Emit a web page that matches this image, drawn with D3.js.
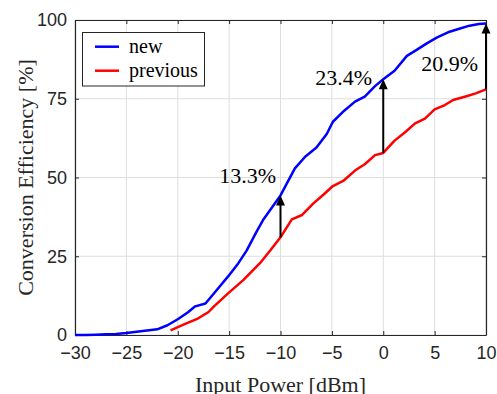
<!DOCTYPE html>
<html>
<head>
<meta charset="utf-8">
<script src="https://cdn.jsdelivr.net/npm/d3@7"></script>
<style>
  html, body { margin: 0; padding: 0; background: #fff; }
  svg { display: block; }
</style>
</head>
<body>
<div id="chart"></div>
<script>
// data
const newX = [-30, -29, -28, -27, -26, -25, -24, -23, -22, -21, -20, -19, -18.3, -17.3, -16.2, -15.1, -14.1, -13.3, -12.3, -11.7, -10, -8.6, -7.6, -6.5, -5.5, -4.9, -3.8, -2.75, -1.8, -0.8, 0, 1.1, 2.3, 3.25, 4.2, 5.2, 6.3, 7.4, 8.4, 9.3, 10];
const newY = [0, 0, 0.1, 0.2, 0.3, 0.6, 1.0, 1.4, 1.8, 3.1, 5.0, 7.2, 9.1, 10.0, 14.3, 18.6, 22.8, 26.8, 33.0, 36.5, 44.3, 52.9, 56.6, 59.5, 63.8, 67.7, 71.2, 74.1, 75.7, 79.0, 81.2, 83.9, 88.6, 90.5, 92.5, 94.4, 96.1, 97.2, 98.2, 98.7, 98.9];
const prevX = [-20.7, -19.5, -18.0, -17.0, -16.5, -15.1, -13.6, -12.0, -11.0, -10, -8.9, -7.9, -6.8, -5.8, -4.9, -3.9, -2.75, -1.8, -0.8, 0, 1.1, 2.1, 3.1, 4.06, 5.0, 6.0, 6.8, 8.1, 9.0, 10];
const prevY = [1.5, 3.2, 5.3, 7.3, 9.0, 13.2, 17.5, 22.8, 26.8, 31.0, 36.7, 38.1, 41.8, 44.6, 47.3, 48.9, 52.2, 54.2, 57.1, 57.8, 61.7, 64.3, 67.2, 68.7, 71.6, 73.0, 74.6, 75.8, 76.7, 78.0];
const seriesNames = ['new', 'previous'];
const seriesColors = ['#0000ff', '#ff0000'];
const arrowAt = [-10, 0, 10];
const arrowText = ['13.3%', '23.4%', '20.9%'];
const xTicks = [-30, -25, -20, -15, -10, -5, 0, 5, 10];
const yTicks = [0, 25, 50, 75, 100];

const width = 497, height = 394;
const margin = { top: 20, right: 11, bottom: 59, left: 75 };
const innerW = width - margin.left - margin.right;
const innerH = height - margin.top - margin.bottom;

const svg = d3.select('#chart').append('svg')
  .attr('width', width)
  .attr('height', height);

const g = svg.append('g')
  .attr('transform', `translate(${margin.left},${margin.top})`);

const x = d3.scaleLinear().domain([-30, 10]).range([0, innerW]);
const y = d3.scaleLinear().domain([0, 100]).range([innerH, 0]);

// grid
g.append('g').selectAll('line')
  .data(xTicks).enter().append('line')
  .attr('x1', d => x(d)).attr('x2', d => x(d))
  .attr('y1', 0).attr('y2', innerH)
  .attr('stroke', '#dedede').attr('stroke-width', 1);
g.append('g').selectAll('line')
  .data(yTicks).enter().append('line')
  .attr('x1', 0).attr('x2', innerW)
  .attr('y1', d => y(d)).attr('y2', d => y(d))
  .attr('stroke', '#dedede').attr('stroke-width', 1);

// axes (ticks inward, matlab style)
const fmt = d => d < 0 ? '\u2212' + Math.abs(d) : String(d);
g.append('g')
  .attr('transform', `translate(0,${innerH})`)
  .call(d3.axisBottom(x).tickValues(xTicks).tickFormat(fmt).tickSizeInner(-4).tickSizeOuter(0).tickPadding(11));
g.append('g')
  .call(d3.axisLeft(y).tickValues(yTicks).tickFormat(fmt).tickSizeInner(-4).tickSizeOuter(0).tickPadding(8));
g.append('g')
  .call(d3.axisTop(x).tickValues(xTicks).tickFormat('').tickSizeInner(-4).tickSizeOuter(0));
g.append('g')
  .attr('transform', `translate(${innerW},0)`)
  .call(d3.axisRight(y).tickValues(yTicks).tickFormat('').tickSizeInner(-4).tickSizeOuter(0));

g.selectAll('.domain').attr('stroke', '#262626').attr('stroke-width', 1.2);
g.selectAll('.tick line').attr('stroke', '#262626');
g.selectAll('.tick text')
  .attr('fill', '#262626')
  .style('font-family', '"Liberation Sans", Arial, sans-serif')
  .style('font-size', '18px');

// series
const line = d3.line().x(d => x(d[0])).y(d => y(d[1]));
const series = [d3.zip(newX, newY), d3.zip(prevX, prevY)];
g.selectAll('.series')
  .data(series).enter().append('path')
  .attr('d', line)
  .attr('fill', 'none')
  .attr('stroke', (d, i) => seriesColors[i])
  .attr('stroke-width', 2.5)
  .attr('stroke-linejoin', 'round');

// arrows from previous up to new
const valueAt = (xs, ys, v) => ys[xs.indexOf(v)];
arrowAt.forEach((v, i) => {
  const y0 = y(valueAt(prevX, prevY, v));
  const y1 = y(valueAt(newX, newY, v));
  const xp = x(v);
  g.append('line')
    .attr('x1', xp).attr('x2', xp)
    .attr('y1', y0).attr('y2', y1 + 8)
    .attr('stroke', '#000').attr('stroke-width', 2);
  g.append('path')
    .attr('d', `M${xp},${y1} L${xp - 4.5},${y1 + 10} L${xp + 4.5},${y1 + 10} Z`)
    .attr('fill', '#000');
});

// arrow labels
const labelPos = [[276, 183], [372, 85], [478, 71]];
svg.selectAll('.lbl')
  .data(arrowText).enter().append('text')
  .attr('x', (d, i) => labelPos[i][0])
  .attr('y', (d, i) => labelPos[i][1])
  .attr('text-anchor', 'end')
  .style('font-family', '"Liberation Serif", "Times New Roman", serif')
  .style('font-size', '22px')
  .attr('fill', '#000')
  .text(d => d);

// legend
const legend = svg.append('g');
legend.append('rect')
  .attr('x', 82.5).attr('y', 32.5)
  .attr('width', 122).attr('height', 53.5)
  .attr('fill', '#fff').attr('stroke', '#262626').attr('stroke-width', 1);
seriesNames.forEach((name, i) => {
  const ly = 46.7 + i * 24;
  legend.append('line')
    .attr('x1', 95).attr('x2', 119)
    .attr('y1', ly).attr('y2', ly)
    .attr('stroke', seriesColors[i]).attr('stroke-width', 2.5);
  legend.append('text')
    .attr('x', 129).attr('y', ly + 6)
    .style('font-family', '"Liberation Serif", "Times New Roman", serif')
    .style('font-size', '20px')
    .attr('fill', '#000')
    .text(name);
});

// axis titles
svg.append('text')
  .attr('x', margin.left + innerW / 2)
  .attr('y', 392)
  .attr('text-anchor', 'middle')
  .style('font-family', '"Liberation Serif", "Times New Roman", serif')
  .style('font-size', '22px')
  .attr('fill', '#262626')
  .text('Input Power [dBm]');
svg.append('text')
  .attr('transform', `translate(33,${margin.top + innerH / 2}) rotate(-90)`)
  .attr('text-anchor', 'middle')
  .style('font-family', '"Liberation Serif", "Times New Roman", serif')
  .style('font-size', '22px')
  .attr('fill', '#262626')
  .text('Conversion Efficiency [%]');
</script>
</body>
</html>
